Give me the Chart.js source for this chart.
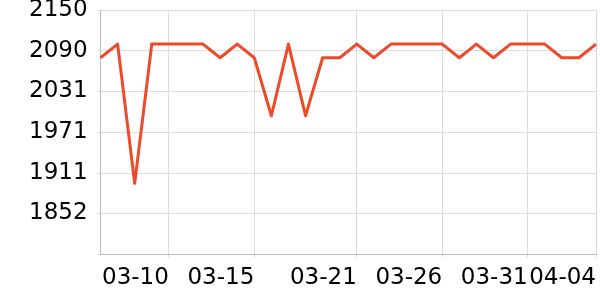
<!DOCTYPE html>
<html>
<head>
<meta charset="utf-8">
<script src="https://cdn.jsdelivr.net/npm/chart.js@4/dist/chart.umd.min.js"></script>
<style>
  html, body { margin: 0; padding: 0; background: #fff; }
  #wrap { width: 600px; height: 300px; }
</style>
</head>
<body>
<div id="wrap"><canvas id="priceChart"></canvas></div>
<script>
// Dates (one point per day)
const days = [
  '03-06', '03-07', '03-08', '03-09', '03-10', '03-11', '03-12', '03-13', '03-14', '03-15',
  '03-16', '03-17', '03-18', '03-19', '03-20', '03-21', '03-22', '03-23', '03-24', '03-25',
  '03-26', '03-27', '03-28', '03-29', '03-30', '03-31', '04-01', '04-02', '04-03', '04-04'
];
const prices = [
  2080, 2100, 1896, 2100, 2100, 2100, 2100, 2080, 2100, 2080,
  1995, 2100, 1995, 2080, 2080, 2100, 2080, 2100, 2100, 2100,
  2100, 2080, 2100, 2080, 2100, 2100, 2100, 2080, 2080, 2100
];
// tick labels that show on the axes
const shownDays = ['03-10', '03-15', '03-21', '03-26', '03-31', '04-04'];
const yTicks = [1852, 1911, 1971, 2031, 2090, 2150];
const yMin = 1792;
const yMax = 2150;

Chart.defaults.font.family = 'DejaVu Sans';
Chart.defaults.font.size = 23;
Chart.defaults.color = '#000';

new Chart(document.getElementById('priceChart'), {
  type: 'line',
  data: {
    labels: days,
    datasets: [{
      data: prices,
      borderColor: '#ee4a2a',
      borderWidth: 3,
      borderJoinStyle: 'round',
      pointRadius: 0,
      fill: false,
      tension: 0
    }]
  },
  options: {
    responsive: true,
    maintainAspectRatio: false,
    animation: false,
    layout: { padding: { left: 19, right: 4, top: 10, bottom: 2 } },
    plugins: {
      legend: { display: false },
      tooltip: { enabled: false }
    },
    scales: {
      x: {
        afterFit: s => { s.paddingLeft = 0; s.paddingRight = 0; },
        grid: {
          color: ctx => ctx.index === days.length - 1 ? 'rgba(0,0,0,0)' : '#dcdcdc',
          tickLength: 3
        },
        border: { color: '#bbbbbb' },
        ticks: {
          autoSkip: false,
          maxRotation: 0,
          align: 'end',
          padding: 10,
          font: { lineHeight: 0.9 },
          callback: function (val, i) {
            const lab = days[i];
            return shownDays.includes(lab) ? lab : null;
          }
        }
      },
      y: {
        min: yMin,
        max: yMax,
        afterBuildTicks: axis => {
          axis.ticks = [yMin].concat(yTicks).map(v => ({ value: v }));
        },
        afterFit: s => { s.paddingTop = 0; s.paddingBottom = 0; },
        grid: { color: '#dcdcdc', tickLength: 3 },
        border: { color: '#bbbbbb' },
        ticks: {
          padding: 10,
          font: { lineHeight: 0.9 },
          callback: v => v === yMin ? '' : String(v)
        }
      }
    }
  }
});
</script>
</body>
</html>
